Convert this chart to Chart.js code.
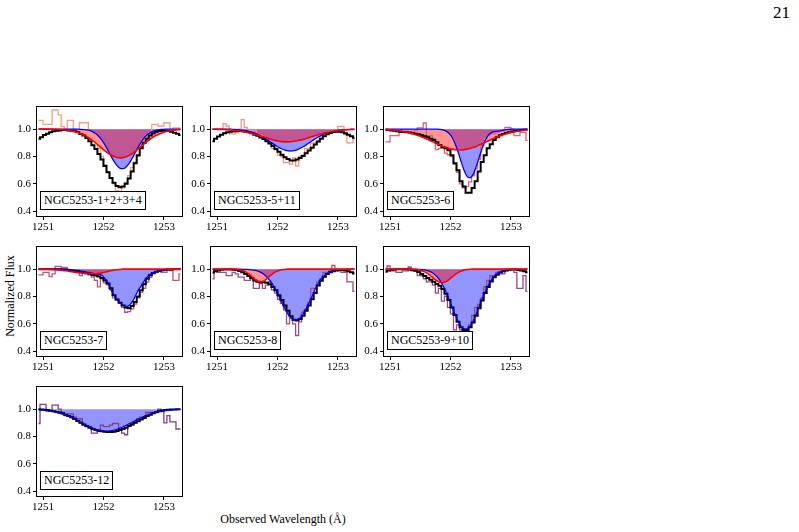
<!DOCTYPE html>
<html>
<head>
<meta charset="utf-8">
<script src="https://cdn.jsdelivr.net/npm/chart.js@4"></script>
<style>
  body { margin: 0; background: #fff; width: 799px; height: 532px; position: relative; overflow: hidden; font-family: "Liberation Serif", "DejaVu Serif", serif; color: #000; }
  canvas { position: absolute; }
  .tag { position: absolute; border: 1px solid #000; background: #fff; font-size: 12px; line-height: 13px; padding: 2px 3px; white-space: nowrap; }
  .txt { position: absolute; white-space: nowrap; }
</style>
</head>
<body>
<div class="txt" style="left:773px; top:3px; font-size:17px;">21</div>
<div class="txt" style="left:10px; top:296px; font-size:12px; transform: translate(-50%, -50%) rotate(-90deg);">Normalized Flux</div>
<div class="txt" style="left:283px; top:519px; font-size:12px; transform: translate(-50%, -50%);">Observed Wavelength (Å)</div>
<script>
// wavelength bin centres (Angstrom)
const wave = [1250.925, 1250.975, 1251.025, 1251.075, 1251.125, 1251.175, 1251.225, 1251.275, 1251.325, 1251.375,
  1251.425, 1251.475, 1251.525, 1251.575, 1251.625, 1251.675, 1251.725, 1251.775, 1251.825, 1251.875,
  1251.925, 1251.975, 1252.025, 1252.075, 1252.125, 1252.175, 1252.225, 1252.275, 1252.325, 1252.375,
  1252.425, 1252.475, 1252.525, 1252.575, 1252.625, 1252.675, 1252.725, 1252.775, 1252.825, 1252.875,
  1252.925, 1252.975, 1253.025, 1253.075, 1253.125, 1253.175, 1253.225, 1253.275];

const xTicks = [1251, 1252, 1253];
const yTicks = [0.4, 0.6, 0.8, 1.0];

const labels = ['NGC5253-1+2+3+4', 'NGC5253-5+11', 'NGC5253-6', 'NGC5253-7', 'NGC5253-8', 'NGC5253-9+10', 'NGC5253-12'];

const flux1 = [1.065,1.065,1.035,1.035,1.035,1.14,1.14,1.105,1.02,1.0, 1.065,1.065,1.0,0.99,1.047,1.047,1.047,0.953,0.93,0.93,
  0.86,0.8,0.74,0.69,0.64,0.6,0.55,0.545,0.57,0.61, 0.66,0.72,0.76,0.8,0.88,0.9,0.95,0.975,1.035,1.035,
  1.023,1.023,1.047,1.047,0.98,1.01,1.01,1.01];
const model1 = [0.93,0.94,0.958,0.967,0.977,0.984,0.988,0.99,0.993,0.993, 0.99,0.988,0.984,0.977,0.965,0.953,0.935,0.911,0.883,0.855,
  0.818,0.778,0.73,0.685,0.643,0.608,0.585,0.575,0.58,0.6, 0.64,0.69,0.75,0.81,0.86,0.9,0.93,0.953,0.97,0.981,
  0.986,0.988,0.988,0.986,0.981,0.974,0.967,0.958];
const blue1 = [1,1,1,1,1,1,1,1,1,1, 1,1,1,1,0.999,0.997,0.994,0.989,0.98,0.966,
  0.946,0.919,0.885,0.845,0.803,0.764,0.733,0.714,0.711,0.724, 0.75,0.787,0.828,0.869,0.906,0.936,0.959,0.975,0.986,0.992,
  0.996,0.998,1,1,1,1,1,1];
const red1 = [1,1,1,1,1,0.999,0.998,0.997,0.996,0.994, 0.991,0.987,0.982,0.976,0.967,0.957,0.945,0.93,0.914,0.897,
  0.878,0.86,0.841,0.825,0.811,0.8,0.793,0.79,0.792,0.798, 0.808,0.822,0.838,0.856,0.875,0.893,0.911,0.927,0.942,0.955,
  0.965,0.974,0.981,0.986,0.99,0.993,0.996,0.997];

const flux2 = [1.0,1.0,1.0,1.0,1.04,1.023,0.965,0.965,0.975,1.0, 1.07,1.012,0.99,0.99,0.99,0.96,0.955,0.93,0.91,0.9,
  0.86,0.85,0.81,0.8,0.755,0.755,0.745,0.79,0.73,0.8, 0.81,0.86,0.86,0.9,0.9,0.905,0.953,0.955,0.977,0.98,
  0.988,0.988,1.02,1.02,0.96,0.9,0.9,0.93];
const model2 = [0.911,0.93,0.946,0.96,0.97,0.977,0.981,0.984,0.986,0.986, 0.984,0.981,0.977,0.97,0.96,0.951,0.939,0.928,0.911,0.895,
  0.876,0.855,0.834,0.813,0.795,0.781,0.771,0.771,0.778,0.79, 0.804,0.823,0.844,0.865,0.888,0.909,0.93,0.949,0.963,0.972,
  0.979,0.981,0.981,0.977,0.97,0.96,0.949,0.937];
const blue2 = [1,1,1,1,1,1,1,0.998,0.997,0.995, 0.992,0.989,0.984,0.978,0.971,0.961,0.95,0.938,0.924,0.909,
  0.894,0.879,0.866,0.855,0.846,0.841,0.84,0.843,0.849,0.859, 0.871,0.885,0.9,0.915,0.93,0.943,0.955,0.965,0.974,0.981,
  0.986,0.99,0.993,0.996,0.997,0.998,1,1];
const red2 = [0.999,0.999,0.998,0.998,0.997,0.996,0.994,0.992,0.989,0.986, 0.983,0.979,0.974,0.968,0.962,0.955,0.949,0.942,0.935,0.928,
  0.922,0.916,0.912,0.909,0.907,0.907,0.908,0.911,0.915,0.92, 0.925,0.932,0.939,0.946,0.953,0.959,0.966,0.972,0.977,0.981,
  0.985,0.988,0.991,0.993,0.995,0.996,0.997,0.998];

const flux3 = [0.907,0.907,0.953,0.953,0.953,0.977,0.985,0.985,0.977,0.977, 0.99,1.01,1.01,1.045,0.953,0.953,0.93,0.85,0.86,0.86,
  0.825,0.813,0.8,0.745,0.685,0.6,0.57,0.58,0.615,0.66, 0.71,0.78,0.883,0.93,0.953,0.965,0.965,0.977,0.988,0.988,
  1.012,1.012,1.0,0.953,0.953,0.977,0.977,0.918];
const model3 = [0.995,0.993,0.99,0.988,0.985,0.982,0.979,0.977,0.975,0.971, 0.967,0.962,0.955,0.948,0.94,0.93,0.92,0.905,0.885,0.87,
  0.86,0.845,0.81,0.75,0.7,0.62,0.58,0.535,0.535,0.57, 0.62,0.69,0.76,0.81,0.86,0.89,0.92,0.94,0.955,0.965,
  0.972,0.978,0.983,0.987,0.99,0.993,0.995,0.997];
const blue3 = [1,1,1,1,1,1,1,1,1,1, 1,1,1,1,1,1,1,1,0.998,0.994,
  0.986,0.97,0.941,0.896,0.835,0.765,0.7,0.655,0.644,0.669, 0.724,0.793,0.861,0.916,0.954,0.975,0.982,0.985,0.988,0.992,
  0.996,0.998,1,1,1,1,1,1];
const red3 = [0.997,0.995,0.994,0.992,0.989,0.986,0.982,0.978,0.973,0.967, 0.96,0.952,0.943,0.934,0.924,0.914,0.904,0.893,0.884,0.874,
  0.866,0.859,0.854,0.85,0.848,0.848,0.85,0.854,0.859,0.866, 0.874,0.884,0.893,0.904,0.914,0.924,0.934,0.943,0.952,0.96,
  0.967,0.973,0.978,0.982,0.986,0.989,0.992,0.994];

const flux4 = [0.958,0.958,0.977,0.977,0.946,0.965,1.02,1.02,1.012,1.012, 0.995,0.995,0.995,0.995,0.953,0.977,0.977,0.977,0.942,0.918,
  0.87,0.93,0.9,0.885,0.848,0.79,0.775,0.755,0.72,0.685, 0.69,0.71,0.745,0.79,0.83,0.86,0.905,0.94,0.965,0.977,
  0.985,0.977,0.977,1.0,0.99,0.918,0.918,0.965];
const model4 = [1,1,1,1,1,1,1,0.999,0.998,0.996, 0.994,0.991,0.988,0.986,0.982,0.977,0.97,0.963,0.958,0.953,
  0.946,0.935,0.918,0.895,0.86,0.81,0.778,0.755,0.735,0.72, 0.715,0.73,0.76,0.8,0.845,0.89,0.93,0.955,0.972,0.982,
  0.988,0.992,0.995,0.997,0.998,1,1,1];
const blue4 = [1,1,1,1,1,1,1,1,1,1, 0.998,0.995,0.99,0.987,0.984,0.981,0.977,0.974,0.97,0.965,
  0.96,0.955,0.93,0.9,0.85,0.81,0.778,0.755,0.738,0.728, 0.735,0.76,0.8,0.845,0.878,0.915,0.942,0.962,0.975,0.982,
  0.987,0.99,0.993,0.995,0.997,0.999,1,1];
const red4 = [1,1,1,0.999,0.998,0.997,0.995,0.993,0.99,0.988, 0.985,0.982,0.978,0.975,0.972,0.97,0.968,0.967,0.966,0.967,
  0.969,0.973,0.978,0.984,0.989,0.993,0.996,0.998,1,1, 1,1,1,1,1,1,1,1,1,1,
  1,1,1,1,1,1,1,1];

const flux5 = [0.93,0.99,0.977,0.977,0.977,0.953,0.953,0.977,0.965,0.942, 0.942,0.918,0.918,0.93,0.86,0.86,0.895,0.86,0.883,0.907,
  0.848,0.825,0.78,0.75,0.7,0.6,0.64,0.6,0.515,0.615, 0.685,0.708,0.755,0.86,0.86,0.907,0.93,0.977,0.977,0.988,
  1.028,1.0,0.988,0.977,0.977,0.907,0.907,0.837];
const model5 = [0.975,0.985,0.99,0.995,0.997,0.998,0.998,0.996,0.993,0.987, 0.978,0.965,0.95,0.935,0.918,0.908,0.905,0.905,0.9,0.89,
  0.87,0.845,0.81,0.775,0.735,0.695,0.655,0.63,0.625,0.635, 0.66,0.695,0.735,0.78,0.825,0.88,0.915,0.945,0.965,0.978,
  0.985,0.99,0.993,0.993,0.99,0.985,0.978,0.968];
const blue5 = [1,1,1,1,1,1,1,1,1,1, 0.999,0.999,0.997,0.995,0.992,0.986,0.976,0.963,0.943,0.917,
  0.884,0.845,0.801,0.755,0.711,0.672,0.644,0.629,0.629,0.644, 0.672,0.711,0.755,0.801,0.855,0.895,0.928,0.953,0.97,0.982,
  0.99,0.993,0.996,0.998,0.999,1,1,1];
const red5 = [1,1,1,1,1,1,1,1,0.998,0.996, 0.99,0.98,0.965,0.946,0.926,0.912,0.907,0.914,0.93,0.95,
  0.968,0.982,0.991,0.996,0.998,1,1,1,1,1, 1,1,1,1,1,1,1,1,1,1,
  1,1,1,1,1,1,1,1];

const flux6 = [0.977,1.023,0.988,0.988,0.977,0.977,0.988,0.988,1.016,0.988, 0.988,0.953,0.953,0.93,0.907,0.907,0.883,0.825,0.86,0.767,
  0.802,0.72,0.673,0.556,0.592,0.556,0.556,0.556,0.592,0.662, 0.72,0.743,0.79,0.872,0.918,0.953,0.953,0.977,0.965,0.965,
  1.0,1.0,1.0,0.977,0.86,0.86,0.953,0.837];
const model6 = [0.985,0.99,0.995,0.998,0.999,1,1,0.999,0.997,0.993, 0.988,0.98,0.965,0.95,0.935,0.922,0.908,0.892,0.878,0.855,
  0.82,0.775,0.72,0.665,0.615,0.575,0.555,0.555,0.575,0.61, 0.66,0.715,0.77,0.825,0.87,0.91,0.94,0.96,0.975,0.985,
  0.99,0.995,0.998,0.997,0.994,0.99,0.985,0.978];
const blue6 = [1,1,1,1,1,1,1,1,1,1, 1,0.999,0.997,0.994,0.988,0.98,0.966,0.946,0.918,0.881,
  0.835,0.782,0.725,0.669,0.619,0.582,0.563,0.563,0.582,0.619, 0.669,0.725,0.782,0.835,0.881,0.918,0.946,0.966,0.98,0.988,
  0.994,0.997,0.999,1,1,1,1,1];
const red6 = [1,1,1,1,1,1,1,1,1,0.999, 0.998,0.995,0.989,0.98,0.967,0.95,0.931,0.915,0.904,0.902,
  0.91,0.924,0.942,0.96,0.975,0.986,0.993,0.997,0.999,1, 1,1,1,1,1,1,1,1,1,1,
  1,1,1,1,1,1,1,1];

const flux7 = [0.895,1.035,1.035,0.985,0.985,1.03,1.03,1.0,0.977,0.953, 0.965,0.965,0.942,0.93,0.93,0.883,0.872,0.872,0.825,0.825,
  0.837,0.883,0.872,0.872,0.883,0.895,0.895,0.86,0.825,0.813, 0.883,0.883,0.907,0.93,0.942,0.942,0.977,0.977,0.977,0.977,
  1.0,0.988,0.9,0.953,0.907,0.907,0.855,0.855];
const model7 = [1,0.998,0.996,0.993,0.989,0.985,0.98,0.976,0.97,0.96, 0.95,0.94,0.928,0.914,0.9,0.888,0.876,0.865,0.855,0.848,
  0.842,0.838,0.835,0.833,0.833,0.835,0.84,0.847,0.855,0.865, 0.876,0.89,0.9,0.912,0.925,0.935,0.95,0.96,0.97,0.977,
  0.985,0.99,0.993,0.995,0.997,0.998,0.999,1];
const blue7 = [0.996,0.994,0.992,0.989,0.986,0.982,0.977,0.971,0.964,0.956, 0.947,0.937,0.927,0.916,0.904,0.893,0.881,0.871,0.861,0.853,
  0.847,0.843,0.84,0.84,0.843,0.847,0.853,0.861,0.871,0.881, 0.893,0.904,0.916,0.927,0.937,0.947,0.956,0.964,0.971,0.977,
  0.982,0.986,0.989,0.992,0.994,0.996,0.997,0.998];

const panels = [
  {label: labels[0], flux: flux1, model: model1, blue: blue1, red: red1, color: '#f5a07c', col: 0, row: 0},
  {label: labels[1], flux: flux2, model: model2, blue: blue2, red: red2, color: '#f2957c', col: 1, row: 0},
  {label: labels[2], flux: flux3, model: model3, blue: blue3, red: red3, color: '#e2646e', col: 2, row: 0},
  {label: labels[3], flux: flux4, model: model4, blue: blue4, red: red4, color: '#c4557a', col: 0, row: 1},
  {label: labels[4], flux: flux5, model: model5, blue: blue5, red: red5, color: '#a44c82', col: 1, row: 1},
  {label: labels[5], flux: flux6, model: model6, blue: blue6, red: red6, color: '#954a88', col: 2, row: 1},
  {label: labels[6], flux: flux7, model: model7, blue: blue7, red: null, color: '#823f86', col: 0, row: 2}
];

const panelLeft = [37, 211, 384];
const panelTop = [102, 242, 382];
const plotW = 145, plotH = 114;
const padL = 34, padT = 4, padR = 4, padB = 20;
const tickFont = {family: '"Liberation Serif", serif', size: 11};

// black frame around the axes, like matplotlib spines
const framePlugin = {
    id: 'frame',
    afterDatasetsDraw(chart) {
        let a = chart.chartArea;
        let ctx = chart.ctx;
        ctx.save();
        ctx.strokeStyle = '#000';
        ctx.lineWidth = 1;
        ctx.strokeRect(Math.round(a.left) - 0.5, Math.round(a.top) - 0.5, Math.round(a.right - a.left) + 1, Math.round(a.bottom - a.top) + 1);
        ctx.restore();
    }
};

function pts(values) {
    return wave.map((x, i) => ({x: x, y: values[i]}));
}

function drawPanel(p) {
    let left = panelLeft[p.col];
    let top = panelTop[p.row];

    let canvas = document.createElement('canvas');
    canvas.width = padL + plotW + padR;
    canvas.height = padT + plotH + padB;
    canvas.style.left = (left - padL) + 'px';
    canvas.style.top = (top - padT) + 'px';
    canvas.style.width = canvas.width + 'px';
    canvas.style.height = canvas.height + 'px';
    document.body.appendChild(canvas);

    let datasets = [];
    datasets.push({data: pts(p.blue), borderWidth: 0, backgroundColor: 'rgba(0,0,255,0.42)', fill: {value: 1}, cubicInterpolationMode: 'monotone', order: 6});
    if (p.red) {
        datasets.push({data: pts(p.red), borderWidth: 0, backgroundColor: 'rgba(255,0,0,0.42)', fill: {value: 1}, cubicInterpolationMode: 'monotone', order: 5});
    }
    datasets.push({data: pts(p.flux), borderColor: p.color, borderWidth: 1.3, fill: false, stepped: 'middle', order: 4});
    datasets.push({data: pts(p.model), borderColor: '#000', borderWidth: 2, fill: false, stepped: 'middle', order: 3});
    datasets.push({data: pts(p.blue), borderColor: '#0000ff', borderWidth: 1.3, fill: false, cubicInterpolationMode: 'monotone', order: 2});
    if (p.red) {
        datasets.push({data: pts(p.red), borderColor: '#ff0000', borderWidth: 1.6, fill: false, cubicInterpolationMode: 'monotone', order: 1});
    }

    new Chart(canvas, {
        type: 'line',
        data: {datasets: datasets},
        options: {
            responsive: false,
            animation: false,
            devicePixelRatio: 1,
            layout: {padding: {left: 2, top: padT, right: padR, bottom: 0}},
            elements: {point: {radius: 0}},
            plugins: {
                legend: {display: false},
                tooltip: {enabled: false}
            },
            scales: {
                x: {
                    type: 'linear',
                    min: 1250.9,
                    max: 1253.3,
                    afterBuildTicks: s => { s.ticks = xTicks.map(v => ({value: v})); },
                    afterFit: s => { s.height = padB; },
                    border: {display: false},
                    grid: {display: true, drawOnChartArea: false, drawTicks: true, tickLength: 4, color: '#000'},
                    ticks: {color: '#000', font: tickFont, padding: 1, maxRotation: 0, autoSkip: false, callback: v => String(v)}
                },
                y: {
                    type: 'linear',
                    min: 0.365,
                    max: 1.165,
                    afterBuildTicks: s => { s.ticks = yTicks.map(v => ({value: v})); },
                    afterFit: s => { s.width = padL - 2; },
                    border: {display: false},
                    grid: {display: true, drawOnChartArea: false, drawTicks: true, tickLength: 4, color: '#000'},
                    ticks: {color: '#000', font: tickFont, padding: 2, autoSkip: false, callback: v => v.toFixed(1)}
                }
            }
        },
        plugins: [framePlugin]
    });

    let tag = document.createElement('div');
    tag.className = 'tag';
    tag.textContent = p.label;
    tag.style.left = (left + 3) + 'px';
    tag.style.top = (top + 89) + 'px';
    document.body.appendChild(tag);
}

panels.forEach(drawPanel);
</script>
</body>
</html>
